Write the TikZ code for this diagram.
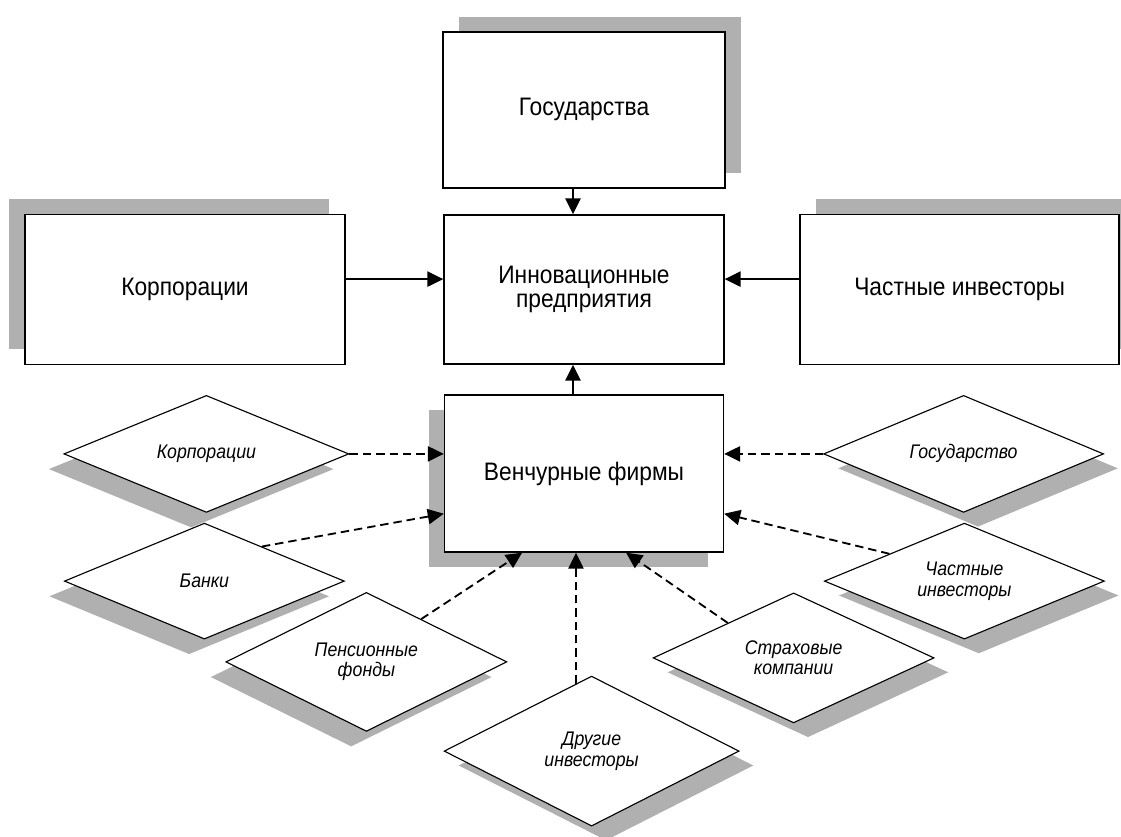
\documentclass[tikz,border=0pt]{standalone}
\usepackage{fontspec}
\setmainfont{Liberation Sans}[FakeStretch=0.9]
\usetikzlibrary{arrows.meta, positioning, shapes.geometric, shadows}
\definecolor{shadowgray}{RGB}{176,176,176}

\begin{document}
\begin{tikzpicture}[
      node distance=4cm, on grid, >={Triangle[length=0.4cm,width=0.38cm]},
      box/.style={draw, line width=1pt, fill=white, inner sep=0pt, align=center,
        font=\fontsize{18}{17}\selectfont},
      rhomb/.style={diamond, aspect=2.4, draw, line width=0.8pt, fill=white, inner sep=0pt,
        align=center, font=\fontsize{14}{14.5}\selectfont\itshape},
      sh ul/.style={drop shadow={shadow xshift=-0.4cm, shadow yshift=0.38cm,
        fill=shadowgray, opacity=1}},
      sh ur/.style={drop shadow={shadow xshift=0.4cm, shadow yshift=0.38cm,
        fill=shadowgray, opacity=1}},
      sh dl/.style={drop shadow={shadow xshift=-0.38cm, shadow yshift=-0.38cm,
        fill=shadowgray, opacity=1}},
      sh dr/.style={drop shadow={shadow xshift=0.36cm, shadow yshift=-0.36cm,
        fill=shadowgray, opacity=1}},
      arr/.style={->, line width=1.4pt},
      dasharr/.style={->, line width=1.3pt, dash pattern=on 6pt off 3.5pt},
      ]
      \useasboundingbox (-14.6,7.2375) rectangle (13.425,-13.6875);

      % main boxes
      \node[box, minimum width=7cm, minimum height=3.725cm]                     (innov)                  {Инновационные\\предприятия};
      \node[box, sh ur, minimum width=7.05cm, minimum height=3.9cm]             (gos)   [above=4.49cm of innov]  {Государства};
      \node[box, sh ul, minimum width=8cm, minimum height=3.75cm]               (korp)  [left=9.975cm of innov]  {Корпорации};
      \node[box, sh ur, minimum width=7.975cm, minimum height=3.75cm]           (chast) [right=9.39cm of innov]  {Частные инвесторы};
      \node[box, sh dl, minimum width=6.975cm, minimum height=3.925cm]          (vench) [below=4.6cm of innov]   {Венчурные фирмы};

      % sources of venture capital
      \node[rhomb, sh dl, minimum width=7.125cm, minimum height=2.925cm] (d_korp)  [above left=0.49cm and 9.44cm of vench]  {Корпорации};
      \node[rhomb, sh dl, minimum width=7cm, minimum height=2.9cm]       (d_bank)  [below left=2.69cm and 9.49cm of vench]  {Банки};
      \node[rhomb, sh dl, minimum width=7.025cm, minimum height=3.475cm] (d_pens)  [below left=4.71cm and 5.44cm of vench]  {Пенсионные\\фонды};
      \node[rhomb, sh dr, minimum width=7.375cm, minimum height=3.75cm]  (d_other) [below right=6.94cm and 0.19cm of vench] {Другие\\инвесторы};
      \node[rhomb, sh dr, minimum width=7.025cm, minimum height=3.25cm]  (d_strah) [below right=4.61cm and 5.24cm of vench] {Страховые\\компании};
      \node[rhomb, sh dr, minimum width=7cm, minimum height=2.925cm]     (d_gos)   [above right=0.49cm and 9.49cm of vench] {Государство};
      \node[rhomb, sh dr, minimum width=7cm, minimum height=2.9cm]       (d_chast) [below right=2.69cm and 9.51cm of vench] {Частные\\инвесторы};

      \draw[arr] ([xshift=-0.275cm]gos.south) -- ([xshift=-0.275cm]innov.north);
      \draw[arr] ([yshift=0.26cm]korp.east) -- ([yshift=0.26cm]innov.west);
      \draw[arr] ([yshift=0.26cm]chast.west) -- ([yshift=0.26cm]innov.east);
      \draw[arr] ([xshift=-0.275cm]vench.north) -- ([xshift=-0.275cm]innov.south);

      \draw[dasharr] (d_korp.east) -- (d_korp.east -| vench.west);
      \draw[dasharr] (d_bank.31) -- (vench.196);
      \draw[dasharr] (d_pens.38) -- (vench.232);
      \draw[dasharr] (d_other.103) -- (d_other.103 |- vench.south);
      \draw[dasharr] (d_strah.152) -- (vench.298);
      \draw[dasharr] (d_gos.west) -- (d_gos.west -| vench.east);
      \draw[dasharr] (d_chast.160) -- (vench.344);
    \end{tikzpicture}
\end{document}
